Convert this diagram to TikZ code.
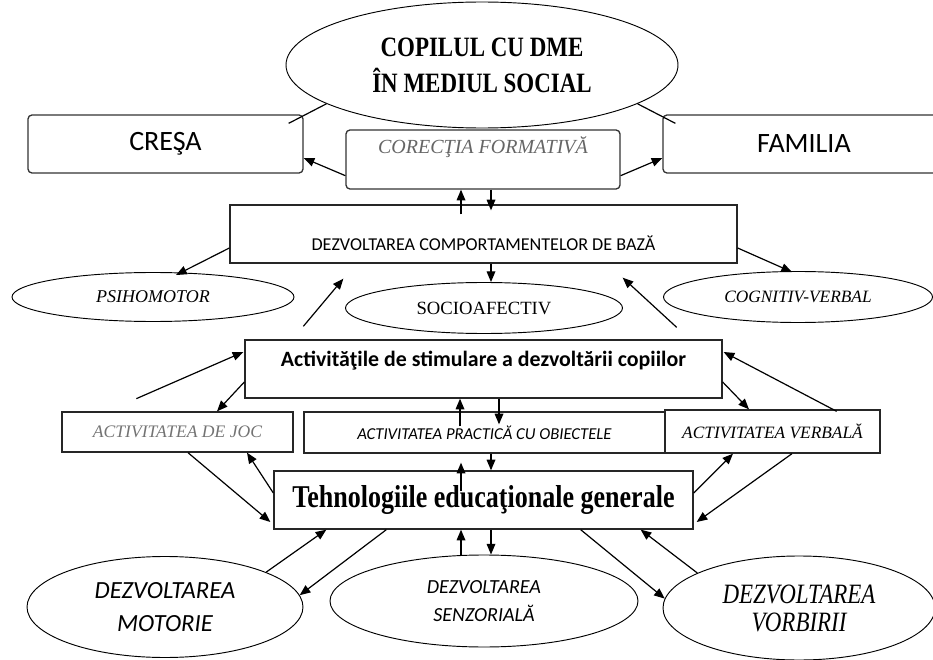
\documentclass[tikz,border=0pt]{standalone}
\usepackage{fontspec}
\setmainfont{Liberation Serif}
\newfontfamily\calibri{Carlito}
\newfontfamily\narrowserif[FakeStretch=0.82]{Liberation Serif}
\usetikzlibrary{positioning,arrows.meta,shapes.geometric,calc}

\begin{document}
\begin{tikzpicture}[
    x=0.75pt, y=-0.75pt,
    every node/.style={align=center, inner sep=0pt},
    rbox/.style={rectangle, rounded corners=3pt, draw=black!80, line width=1pt},
    sbox/.style={rectangle, draw=black!85, line width=1pt},
    oval/.style={ellipse, draw, line width=0.7pt},
    arr/.style={-{Triangle[length=8pt,width=6.5pt]}, line width=0.9pt},
    ln/.style={line width=0.9pt}
]
\useasboundingbox (0,0) rectangle (933,660);

\node[oval, minimum width=294pt, minimum height=94.5pt, font=\narrowserif\bfseries\fontsize{21}{27}\selectfont] (copil) at (482,65) {COPILUL CU DME\\ÎN MEDIUL SOCIAL};

\node[rbox, minimum width=206.25pt, minimum height=43.5pt, font=\calibri\fontsize{21}{25}\selectfont] (cresa) at (165.5,144) {CREŞA};
\node[rbox, minimum width=211.5pt, minimum height=43.5pt, font=\calibri\fontsize{21}{25}\selectfont] (familia) at (804,144) {FAMILIA};
\node[rbox, minimum width=205.5pt, text height=17.75pt, text depth=26.5pt, font=\itshape\fontsize{15}{18}\selectfont, text=black!60] (corectia) at (483,159.5) {CORECŢIA FORMATIVĂ};

\node[sbox, minimum width=380.25pt, text height=34.3pt, text depth=9.2pt, font=\calibri\fontsize{13.6}{16}\selectfont] (dezv) at (483.5,234) {DEZVOLTAREA COMPORTAMENTELOR DE BAZĂ};

\node[oval, minimum width=211.5pt, minimum height=36.75pt, font=\itshape\fontsize{13.5}{16}\selectfont] (psiho) at (153,297) {PSIHOMOTOR};
\node[oval, minimum width=207.75pt, minimum height=38.25pt, font=\fontsize{14}{17}\selectfont] (socio) at (484,308) {SOCIOAFECTIV};
\node[oval, minimum width=201.75pt, minimum height=38.25pt, font=\itshape\fontsize{13}{16}\selectfont] (cogn) at (798,297) {COGNITIV-VERBAL};

\node[sbox, minimum width=357.75pt, text height=20.15pt, text depth=23.35pt, font=\calibri\bfseries\fontsize{16.4}{19}\selectfont] (activ) at (483.5,369) {Activităţile de stimulare a dezvoltării copiilor};

\node[sbox, minimum width=173.25pt, minimum height=30pt, font=\itshape\fontsize{13.2}{16}\selectfont, text=black!55] (joc) at (177.5,432) {ACTIVITATEA DE JOC};
\node[sbox, minimum width=270.75pt, minimum height=30.75pt, font=\calibri\itshape\fontsize{12.5}{15}\selectfont] (practica) at (484.5,432.5) {ACTIVITATEA PRACTICĂ CU OBIECTELE};
\node[sbox, minimum width=161.25pt, minimum height=32.25pt, font=\itshape\fontsize{13}{16}\selectfont] (verbala) at (772.5,431.5) {ACTIVITATEA VERBALĂ};

\node[sbox, minimum width=314.25pt, minimum height=43.5pt, font=\narrowserif\bfseries\fontsize{23.8}{28}\selectfont] (tehno) at (483.5,500) {Tehnologiile educaţionale generale};

\node[oval, minimum width=207pt, minimum height=75.75pt, font=\calibri\itshape\fontsize{18.5}{24.75}\selectfont] (motorie) at (165,607) {DEZVOLTAREA\\MOTORIE};
\node[oval, minimum width=231pt, minimum height=69pt, font=\calibri\itshape\fontsize{15}{21}\selectfont] (senz) at (484,601) {DEZVOLTAREA\\SENZORIALĂ};
\node[oval, minimum width=204pt, minimum height=78pt, font=\narrowserif\itshape\fontsize{21}{21}\selectfont] (vorbirii) at (799,608) {DEZVOLTAREA\\VORBIRII};

% top level
\draw[ln] (copil.194) -- ($(cresa.north east)+(-15,9)$);
\draw[ln] (copil.-14) -- ($(familia.north west)+(13,9)$);
\draw[arr] ($(corectia.south west)+(0,-14)$) -- ($(cresa.east)+(0,14)$);
\draw[arr] ($(corectia.south east)+(0,-14)$) -- ($(familia.west)+(0,14)$);
\draw[arr] ($(dezv.north)+(-22.5,10)$) -- ($(corectia.south)+(-22,0)$);
\draw[arr] ($(corectia.south)+(8,0)$) -- ($(dezv.north)+(7.5,6)$);

% behaviours
\draw[arr] ($(dezv.west)+(0,14)$) -- ($(psiho.north)+(23,3)$);
\draw[arr] ($(dezv.east)+(0,14)$) -- ($(cogn.north)+(-6,1)$);
\draw[arr] ($(dezv.south)+(7.5,0)$) -- ($(socio.north)+(7,0)$);
\draw[arr] ($(activ.north west)+(59,-13)$) -- ($(dezv.south west)+(114,15)$);
\draw[arr] ($(activ.north east)+(-46,-12)$) -- ($(dezv.south east)+(-115,14)$);

% activities
\draw[arr] ($(activ.south west)+(-108,0)$) -- ($(activ.west)+(-1,-17)$);
\draw[arr] ($(verbala.north east)+(-44,2)$) -- ($(activ.east)+(1,-17)$);
\draw[arr] ($(activ.west)+(0,13)$) -- ($(joc.north)+(39.5,0)$);
\draw[arr] ($(activ.east)+(0,13)$) -- ($(verbala.north)+(-23.5,0)$);
\draw[arr] ($(practica.north)+(-24.5,15)$) -- ($(activ.south)+(-23.5,0)$);
\draw[arr] ($(activ.south)+(15.5,0)$) -- ($(practica.north)+(14.5,13)$);
\draw[arr] ($(practica.south)+(6.5,0)$) -- ($(tehno.north)+(7.5,0)$);
\draw[arr] ($(tehno.north)+(-22.5,21)$) -- ($(practica.south)+(-23.5,9)$);
\draw[arr] ($(joc.south)+(10.5,0)$) -- ($(tehno.west)+(-3,22)$);
\draw[arr] ($(tehno.west)+(0,-7)$) -- ($(joc.south)+(69.5,0)$);
\draw[arr] ($(tehno.east)+(0,-7)$) -- ($(verbala.south)+(-39.5,0)$);
\draw[arr] ($(verbala.south)+(19.5,0)$) -- ($(tehno.east)+(3,22)$);

% development areas
\draw[arr] (motorie.19) -- ($(tehno.south west)+(53,0)$);
\draw[arr] ($(tehno.south west)+(113,0)$) -- (motorie.5);
\draw[arr] ($(senz.north)+(-23,1)$) -- ($(tehno.south)+(-22.5,0)$);
\draw[arr] ($(tehno.south)+(7.5,0)$) -- ($(senz.north)+(7,0)$);
\draw[arr] ($(tehno.south east)+(-113,0)$) -- (vorbirii.176);
\draw[arr] (vorbirii.161) -- ($(tehno.south east)+(-53,0)$);

\end{tikzpicture}
\end{document}
